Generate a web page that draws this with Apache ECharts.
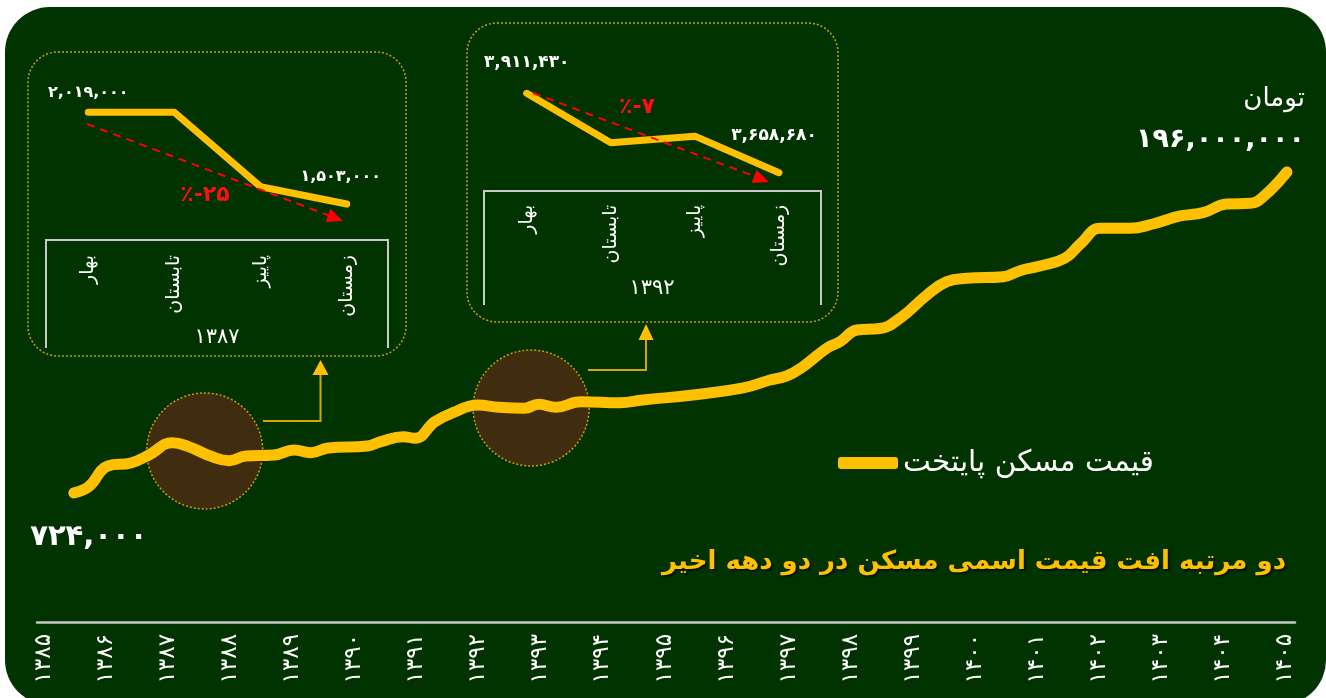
<!DOCTYPE html>
<html><head><meta charset="utf-8">
<script src="https://cdn.jsdelivr.net/npm/echarts@6/dist/echarts.min.js"></script>
<style>
html,body{margin:0;padding:0;background:#fff;}
#wrap{position:relative;width:1326px;height:698px;overflow:hidden;}
#panel{position:absolute;left:5px;top:7px;width:1321px;height:698px;border-radius:45px;background:#013300;}
#chart{position:absolute;left:0;top:0;width:1326px;height:698px;}
</style></head>
<body><div id="wrap"><div id="panel"></div><div id="chart"></div></div>
<script>
// ---- data ----
const yearTicks = [1385,1386,1387,1388,1389,1390,1391,1392,1393,1394,1395,1396,1397,1398,1399,1400,1401,1402,1403,1404,1405];
const priceYears = [1385.48,1385.72,1386.03,1386.40,1386.69,1387.07,1387.33,1387.68,1387.99,1388.25,1388.71,1389.03,1389.29,1389.58,1390.21,1390.43,1390.79,1390.98,1391.30,1391.59,1391.99,1392.33,1392.74,1392.97,1393.25,1393.65,1394.28,1394.65,1395.46,1396.27,1396.70,1396.97,1397.23,1397.62,1397.83,1398.10,1398.47,1398.80,1399.23,1399.55,1399.87,1400.46,1400.73,1401.05,1401.45,1401.70,1402.02,1402.50,1402.87,1403.31,1403.68,1404.06,1404.44,1404.65,1405.03];
const priceValues = [724000,808000,1160000,1222000,1405000,1741000,1624000,1380000,1272000,1380000,1405000,1533000,1463000,1587000,1644000,1772000,1934000,1880000,2512000,2939000,3362000,3229000,3174000,3403000,3229000,3561000,3499000,3668000,4003000,4523000,5200000,5577000,6558000,9090000,10150000,12440000,12770000,15350000,22920000,28900000,30670000,31540000,35020000,38010000,43470000,55790000,73370000,73370000,79100000,90950000,96340000,112100000,113500000,127400000,196000000];
const seasons = ['بهار','تابستان','پاییز','زمستان'];
const drop1387 = [2019000, 2019000, 1600000, 1503000];
const drop1392 = [3911430, 3754000, 3775000, 3658680];
const dropPct = ['٪-۲۵', '٪-۷'];
const dropYears = ['۱۳۸۷', '۱۳۹۲'];
const highlightYears = [1387.59, 1392.85];
const highlightValues = [1507000, 3190000];
const seriesName = 'قیمت مسکن پایتخت';
const titleText = 'دو مرتبه افت قیمت اسمی مسکن در دو دهه اخیر';
const unitText = 'تومان';

// ---- helpers ----
const FA = '۰۱۲۳۴۵۶۷۸۹';
const toFa = n => String(n).replace(/\d/g, d => FA[d]);
const fmtFa = n => toFa(Number(n).toLocaleString('en-US'));
const FONT = '"DejaVu Sans", sans-serif';
const YEL = '#FFC000';
const GOLD = '#c9a200';
const FRAME = '#c8c8c8';

const chart = echarts.init(document.getElementById('chart'), null, {renderer:'canvas'});

const mainData = priceYears.map((y, i) => {
  const item = {value: [y, priceValues[i]]};
  if (i === 0) item.label = {show:true, position:'bottom', distance:30, offset:[15,0], formatter: fmtFa(priceValues[i]),
      color:'#fff', fontSize:29, fontWeight:'bold', fontFamily:FONT};
  if (i === priceYears.length - 1) item.label = {show:true, position:'top', distance:14, offset:[18,0], align:'right',
      formatter: '{u|' + unitText + '}\n{v|' + fmtFa(priceValues[i]) + '}',
      rich:{u:{color:'#fff', fontSize:26, fontFamily:FONT, align:'right', lineHeight:44},
            v:{color:'#fff', fontSize:27, fontWeight:'bold', fontFamily:FONT, align:'right', lineHeight:36}}};
  return item;
});

function insetData(vals, dist1, dist4, off4, fs) {
  return vals.map((v, i) => {
    if (i === 0 || i === vals.length - 1) {
      return {value: v, label: {show:true, position:'top', distance: i === 0 ? dist1 : dist4,
        offset: i === 0 ? [0,0] : off4, formatter: fmtFa(v), color:'#fff', fontSize:fs, fontWeight:'bold', fontFamily:FONT}};
    }
    return v;
  });
}

function arrowHead(sx, sy, tx, ty, len, hw) {
  const dx = tx - sx, dy = ty - sy, L = Math.hypot(dx, dy);
  const ux = dx / L, uy = dy / L;
  const bx = tx - ux * len, by = ty - uy * len;
  return [[tx, ty], [bx - uy * hw, by + ux * hw], [bx + uy * hw, by - ux * hw]];
}

const graphics = [
  {type:'rect', shape:{x:28, y:52, width:378, height:304, r:30}, style:{fill:null, stroke:GOLD, lineWidth:1.5, lineDash:[2,2]}, z:0},
  {type:'rect', shape:{x:467, y:23, width:371, height:299, r:30}, style:{fill:null, stroke:GOLD, lineWidth:1.5, lineDash:[2,2]}, z:0},
  {type:'polyline', shape:{points:[[46,348],[46,240],[388,240],[388,348]]}, style:{stroke:FRAME, lineWidth:2, fill:null}},
  {type:'polyline', shape:{points:[[484,305],[484,191],[821,191],[821,305]]}, style:{stroke:FRAME, lineWidth:2, fill:null}},
  {type:'text', x:217, y:338, style:{text:dropYears[0], fill:'#fff', font:'21px ' + FONT, align:'center', verticalAlign:'middle'}},
  {type:'text', x:652, y:289, style:{text:dropYears[1], fill:'#fff', font:'21px ' + FONT, align:'center', verticalAlign:'middle'}},
  {type:'line', shape:{x1:87, y1:124, x2:329, y2:215.5}, style:{stroke:'#ff0000', lineWidth:2, lineDash:[8,6]}, z:5},
  {type:'polygon', shape:{points:arrowHead(87,124,343,221,16,7)}, style:{fill:'#ff0000'}, z:5},
  {type:'line', shape:{x1:533, y1:93, x2:755, y2:176.5}, style:{stroke:'#ff0000', lineWidth:2, lineDash:[8,6]}, z:5},
  {type:'polygon', shape:{points:arrowHead(533,93,769,182,16,7)}, style:{fill:'#ff0000'}, z:5},
  {type:'text', x:205, y:195, style:{text:dropPct[0], fill:'#ff1010', font:'bold 22px ' + FONT, align:'center', verticalAlign:'middle'}, z:6},
  {type:'text', x:637, y:107, style:{text:dropPct[1], fill:'#ff1010', font:'bold 22px ' + FONT, align:'center', verticalAlign:'middle'}, z:6},
  {type:'polyline', shape:{points:[[263,421],[320.5,421],[320.5,374]]}, style:{stroke:'#d9a800', lineWidth:2, fill:null}},
  {type:'polygon', shape:{points:[[320.5,360],[312.5,375],[328.5,375]]}, style:{fill:YEL}},
  {type:'polyline', shape:{points:[[588,370],[646,370],[646,338]]}, style:{stroke:'#d9a800', lineWidth:2, fill:null}},
  {type:'polygon', shape:{points:[[646,324],[638.5,340],[653.5,340]]}, style:{fill:YEL}}
];

const option = {
  animation: false,
  backgroundColor: 'transparent',
  textStyle: {fontFamily: FONT},
  title: {text: titleText, right: 35, top: 544,
    textStyle: {color: YEL, fontSize: 26, fontWeight: 'bold', fontFamily: FONT,
      textShadowColor: 'rgba(0,0,0,0.6)', textShadowOffsetX: 2, textShadowOffsetY: 2, textShadowBlur: 2}},
  legend: {data: [seriesName], left: 833, top: 443, icon: 'roundRect', itemWidth: 60, itemHeight: 12, itemGap: 10,
    textStyle: {color: '#fff', fontSize: 29.5, fontFamily: FONT}},
  grid: [
    {left: 37, right: 31, top: 78.6, height: 527.8},
    {left: 88.3, top: 112.3, width: 258.4, height: 91.7},
    {left: 526.7, top: 93.3, width: 252.3, height: 79.4}
  ],
  xAxis: [
    {type: 'value', gridIndex: 0, min: 1384.887, max: 1405.16, offset: 15.6,
      axisLine: {show: true, lineStyle: {color: FRAME, width: 2.5}},
      axisTick: {show: false}, splitLine: {show: false},
      axisLabel: {customValues: yearTicks, rotate: 90, margin: 12, color: '#fff', fontSize: 23, fontFamily: FONT,
        formatter: v => toFa(Math.round(v))}},
    {type: 'category', gridIndex: 1, data: seasons, boundaryGap: false,
      axisLine: {show: false}, axisTick: {show: false},
      axisLabel: {rotate: 90, margin: 51, color: '#fff', fontSize: 19, fontFamily: FONT, interval: 0}},
    {type: 'category', gridIndex: 2, data: seasons, boundaryGap: false,
      axisLine: {show: false}, axisTick: {show: false},
      axisLabel: {rotate: 90, margin: 32, color: '#fff', fontSize: 19, fontFamily: FONT, interval: 0}}
  ],
  yAxis: [
    {type: 'log', gridIndex: 0, logBase: 10, min: 1e5, max: 1e9, show: false},
    {type: 'value', gridIndex: 1, min: 1503000, max: 2019000, show: false},
    {type: 'value', gridIndex: 2, min: 3658680, max: 3911430, show: false}
  ],
  series: [
    {type: 'scatter', xAxisIndex: 0, yAxisIndex: 0, z: 1, silent: true,
      data: highlightYears.map((y, i) => [y, highlightValues[i]]),
      symbol: 'circle', symbolSize: 116,
      itemStyle: {color: '#402c0f', borderColor: GOLD, borderWidth: 1.5, borderType: [2,2], opacity: 1}},
    {name: seriesName, type: 'line', xAxisIndex: 0, yAxisIndex: 0, z: 3,
      data: mainData, smooth: 0.45, symbol: 'circle', symbolSize: 1, showSymbol: true,
      itemStyle: {color: YEL}, lineStyle: {color: YEL, width: 11, cap: 'round', join: 'round'}},
    {type: 'line', xAxisIndex: 1, yAxisIndex: 1, z: 3, clip: false,
      data: insetData(drop1387, 11, 19, [-6,0], 16), symbol: 'circle', showSymbol: true, symbolSize: 1,
      itemStyle: {color: YEL}, lineStyle: {color: YEL, width: 7, cap: 'round', join: 'round'}},
    {type: 'line', xAxisIndex: 2, yAxisIndex: 2, z: 3, clip: false,
      data: insetData(drop1392, 22, 28, [-5,0], 17), symbol: 'circle', showSymbol: true, symbolSize: 1,
      itemStyle: {color: YEL}, lineStyle: {color: YEL, width: 7, cap: 'round', join: 'round'}}
  ],
  graphic: graphics
};
chart.setOption(option);
</script></body></html>
